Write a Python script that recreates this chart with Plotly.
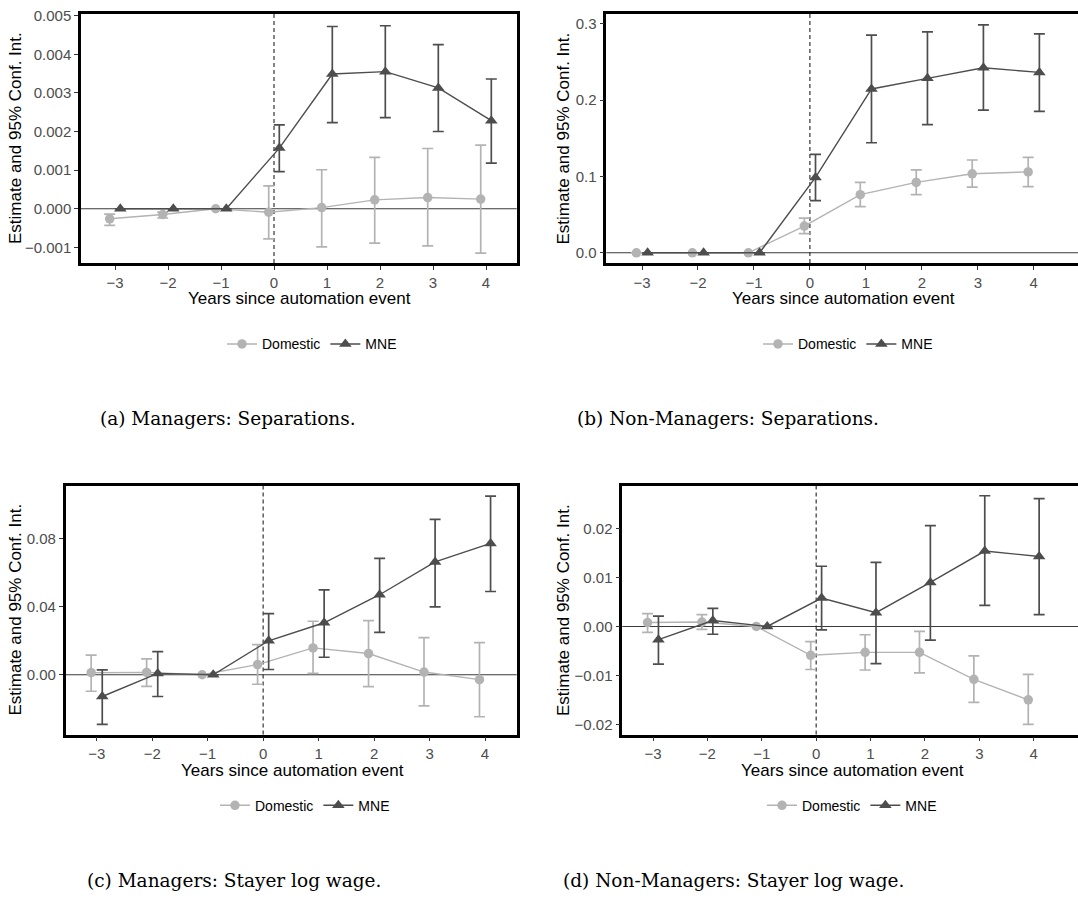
import numpy as np
import plotly.graph_objects as go

W, H = 1078, 898

years = [-3, -2, -1, 0, 1, 2, 3, 4]
x_ticktext = ["\u22123", "\u22122", "\u22121", "0", "1", "2", "3", "4"]
series_names = ["Domestic", "MNE"]

# (a) Managers: Separations
dom_a_est = [-0.00026, -0.00015, 0.0, -0.00009, 0.00003, 0.00023, 0.00029, 0.00025]
dom_a_lo = [-0.00043, -0.00024, None, -0.00078, -0.00099, -0.00089, -0.00096, -0.00115]
dom_a_hi = [-0.00014, -0.00009, None, 0.00059, 0.00101, 0.00133, 0.00156, 0.00165]
mne_a_est = [0.0, 0.0, 0.0, 0.00157, 0.00349, 0.00355, 0.00313, 0.00228]
mne_a_lo = [None, None, None, 0.00096, 0.00223, 0.00236, 0.00200, 0.00118]
mne_a_hi = [None, None, None, 0.00217, 0.00472, 0.00474, 0.00425, 0.00336]
ytick_a = [-0.001, 0.0, 0.001, 0.002, 0.003, 0.004, 0.005]
ytext_a = ["\u22120.001", "0.000", "0.001", "0.002", "0.003", "0.004", "0.005"]

# (b) Non-Managers: Separations
dom_b_est = [0.0, 0.0, 0.0, 0.035, 0.0762, 0.0922, 0.1035, 0.106]
dom_b_lo = [None, None, None, 0.0251, 0.0606, 0.0762, 0.0861, 0.0866]
dom_b_hi = [None, None, None, 0.0455, 0.0922, 0.1087, 0.1216, 0.1251]
mne_b_est = [0.0, 0.0, 0.0, 0.0987, 0.2147, 0.2286, 0.2424, 0.2364]
mne_b_lo = [None, None, None, 0.0684, 0.1442, 0.168, 0.187, 0.1853]
mne_b_hi = [None, None, None, 0.129, 0.2853, 0.2896, 0.2987, 0.287]
ytick_b = [0.0, 0.1, 0.2, 0.3]
ytext_b = ["0.0", "0.1", "0.2", "0.3"]

# (c) Managers: Stayer log wage
dom_c_est = [0.0012, 0.0014, 0.0, 0.006, 0.0158, 0.0125, 0.0016, -0.0029]
dom_c_lo = [-0.0097, -0.0068, None, -0.0056, 0.0008, -0.0070, -0.0183, -0.0247]
dom_c_hi = [0.0115, 0.0093, None, 0.0177, 0.0315, 0.0319, 0.0218, 0.0189]
mne_c_est = [-0.0128, 0.0008, 0.0, 0.0200, 0.0306, 0.0471, 0.0664, 0.0773]
mne_c_lo = [-0.0292, -0.0128, None, 0.0031, 0.0103, 0.0249, 0.0399, 0.0490]
mne_c_hi = [0.0029, 0.0136, None, 0.0360, 0.0500, 0.0685, 0.0915, 0.1051]
ytick_c = [0.0, 0.04, 0.08]
ytext_c = ["0.00", "0.04", "0.08"]

# (d) Non-Managers: Stayer log wage
dom_d_est = [0.0008, 0.0009, 0.0, -0.0059, -0.0053, -0.0053, -0.0108, -0.0150]
dom_d_lo = [-0.0012, -0.0006, None, -0.0088, -0.0089, -0.0095, -0.0155, -0.0200]
dom_d_hi = [0.0026, 0.0024, None, -0.0031, -0.0017, -0.0010, -0.0060, -0.0098]
mne_d_est = [-0.0027, 0.0012, 0.0, 0.0058, 0.0028, 0.0090, 0.0154, 0.0143]
mne_d_lo = [-0.0077, -0.0016, None, -0.0007, -0.0076, -0.0028, 0.0043, 0.0024]
mne_d_hi = [0.0021, 0.0037, None, 0.0123, 0.0131, 0.0206, 0.0267, 0.0261]
ytick_d = [-0.02, -0.01, 0.0, 0.01, 0.02]
ytext_d = ["\u22120.02", "\u22120.01", "0.00", "0.01", "0.02"]

captions = ["(a) Managers: Separations.", "(b) Non-Managers: Separations.",
            "(c) Managers: Stayer log wage.", "(d) Non-Managers: Stayer log wage."]
x_title = "Years since automation event"
y_title = "Estimate and 95% Conf. Int."

# ---------- layout geometry (pixels) ----------
panels = [
    dict(data=(dom_a_est, dom_a_lo, dom_a_hi, mne_a_est, mne_a_lo, mne_a_hi),
         yt=(ytick_a, ytext_a), box=(81, 516.7, 7, 258),
         xr=[-3.6415, 4.579], yr=[-0.001405, 0.005045], right=True,
         ytx=15.5, xt=(299, 294), leg=(312, 340), cap=(228, 415)),
    dict(data=(dom_b_est, dom_b_lo, dom_b_hi, mne_b_est, mne_b_lo, mne_b_hi),
         yt=(ytick_b, ytext_b), box=(606.3, 1078, 7, 258),
         xr=[-3.638, 4.79], yr=[-0.01338, 0.313], right=False,
         ytx=563, xt=(843, 294), leg=(848, 340), cap=(728, 415)),
    dict(data=(dom_c_est, dom_c_lo, dom_c_hi, mne_c_est, mne_c_lo, mne_c_hi),
         yt=(ytick_c, ytext_c), box=(65.7, 516.7, 482.3, 733.3),
         xr=[-3.559, 4.571], yr=[-0.03521, 0.11136], right=True,
         ytx=15.5, xt=(292, 769), leg=(305, 805), cap=(234, 880)),
    dict(data=(dom_d_est, dom_d_lo, dom_d_hi, mne_d_est, mne_d_lo, mne_d_hi),
         yt=(ytick_d, ytext_d), box=(622.3, 1078, 482.3, 733.3),
         xr=[-3.5645, 4.8145], yr=[-0.0221, 0.02879], right=False,
         ytx=563, xt=(852, 769), leg=(852, 805), cap=(733, 880)),
]

DOM_COL = "#B3B3B3"
MNE_COL = "#4D4D4D"
SANS = "Liberation Sans, Arial, sans-serif"
SERIF = "DejaVu Serif, serif"

def px(x):
    return x / W

def py(y):
    return 1 - y / H

fig = go.Figure()
layout = {}
annotations = []
shapes = []

def err(est, lo, hi):
    e = np.array([np.nan if v is None else v for v in est], dtype=float)
    l = np.array([np.nan if v is None else v for v in lo], dtype=float)
    h = np.array([np.nan if v is None else v for v in hi], dtype=float)
    return (h - e).tolist(), (e - l).tolist()

for i, p in enumerate(panels):
    k = "" if i == 0 else str(i + 1)
    xa, ya = "x" + k, "y" + k
    legname = "legend" + k
    de, dl, dh, me, ml, mh = p["data"]
    x_dom = [t - 0.1 for t in years]
    x_mne = [t + 0.1 for t in years]
    for name, xs, est, lo, hi, col, sym, size in [
        (series_names[0], x_dom, de, dl, dh, DOM_COL, "circle", 9.5),
        (series_names[1], x_mne, me, ml, mh, MNE_COL, "triangle-up", 11),
    ]:
        up, dn = err(est, lo, hi)
        fig.add_trace(go.Scatter(
            x=xs, y=est, xaxis=xa, yaxis=ya, name=name, legend=legname,
            mode="lines+markers",
            line=dict(color=col, width=1.4),
            marker=dict(color=col, size=size, symbol=sym, line=dict(width=0)),
            error_y=dict(type="data", symmetric=False, array=up, arrayminus=dn,
                         color=col, thickness=1.7, width=5.5),
            cliponaxis=False,
        ))
    x0, x1, y0, y1 = p["box"]
    layout["xaxis" + k] = dict(
        domain=[px(x0), min(px(x1), 1.0)], range=p["xr"], anchor=ya,
        tickvals=years, ticktext=x_ticktext, showgrid=False, zeroline=False,
        showline=True, mirror=True, linecolor="black", linewidth=2.5,
        ticks="outside", ticklen=4, tickwidth=1.2, tickcolor="#333333",
        tickfont=dict(family=SANS, size=15, color="#4D4D4D"),
    )
    layout["yaxis" + k] = dict(
        domain=[py(y1), py(y0)], range=p["yr"], anchor=xa,
        tickvals=p["yt"][0], ticktext=p["yt"][1], showgrid=False, zeroline=False,
        showline=True, mirror=p["right"], linecolor="black", linewidth=2.5,
        ticks="outside", ticklen=4, tickwidth=1.2, tickcolor="#333333",
        tickfont=dict(family=SANS, size=15, color="#4D4D4D"),
    )
    # zero line and event line
    shapes.append(dict(type="line", xref=xa + " domain", yref=ya, x0=0, x1=1, y0=0, y1=0,
                       line=dict(color="#3A3A3A", width=1.1), layer="below"))
    shapes.append(dict(type="line", xref=xa, yref=ya + " domain", x0=0, x1=0, y0=0, y1=1,
                       line=dict(color="#222222", width=1.1, dash="4px,3px"), layer="below"))
    # axis titles
    annotations.append(dict(text=x_title, x=px(p["xt"][0]), y=py(p["xt"][1]),
                            xref="paper", yref="paper",
                            xanchor="center", yanchor="middle", showarrow=False,
                            font=dict(family=SANS, size=17, color="black")))
    annotations.append(dict(text=y_title, x=px(p["ytx"]), y=py((y0 + y1) / 2),
                            xref="paper", yref="paper", textangle=-90,
                            xanchor="center", yanchor="middle", showarrow=False,
                            font=dict(family=SANS, size=17, color="black")))
    # caption
    annotations.append(dict(text=captions[i], x=px(p["cap"][0]), y=py(p["cap"][1]),
                            xref="paper", yref="paper", xanchor="center", yanchor="middle",
                            showarrow=False,
                            font=dict(family=SERIF, size=18.5, color="black")))
    layout[legname] = dict(orientation="h", x=px(p["leg"][0]), y=py(p["leg"][1]),
                           xanchor="center", yanchor="middle", xref="paper", yref="paper",
                           font=dict(family=SANS, size=14, color="black"),
                           bgcolor="rgba(0,0,0,0)", itemwidth=30, traceorder="normal")

fig.update_layout(
    width=W, height=H, margin=dict(l=0, r=0, t=0, b=0),
    paper_bgcolor="white", plot_bgcolor="white",
    showlegend=True, annotations=annotations, shapes=shapes,
    **layout,
)

fig.write_html("out.html")
